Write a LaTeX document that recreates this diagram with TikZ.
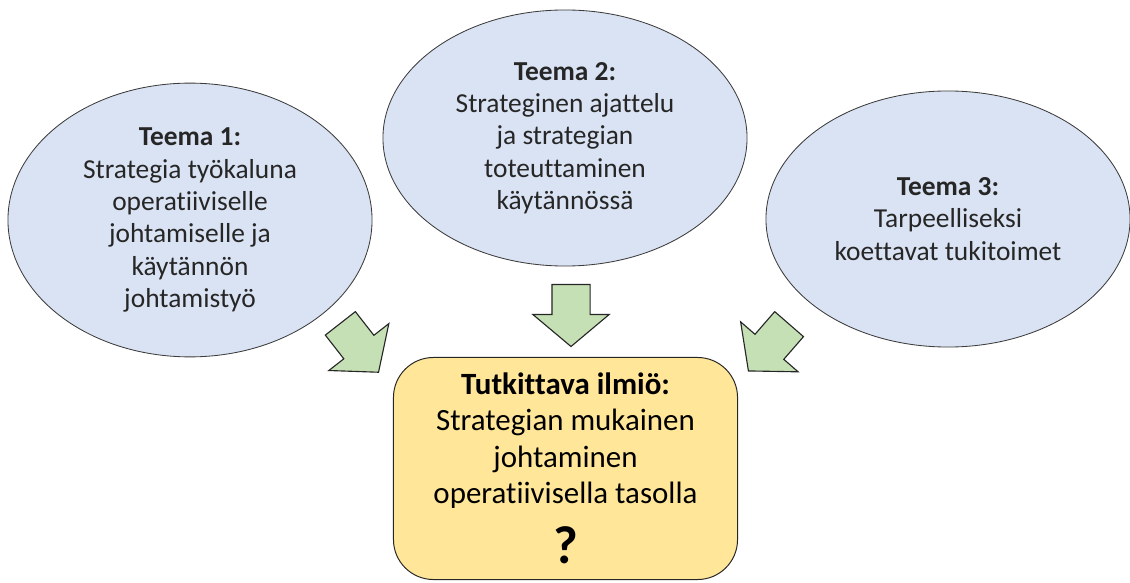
\documentclass[tikz,border=0pt]{standalone}
\usepackage{fontspec}
\setmainfont{Carlito}[Ligatures=NoCommon]
\usepackage{tikz}
\usetikzlibrary{shapes.geometric, shapes.arrows}
\definecolor{themeblue}{HTML}{DAE3F3}
\definecolor{phengold}{HTML}{FFE699}
\definecolor{arrowgreen}{HTML}{C5E0B4}
\definecolor{inkgray}{HTML}{262626}
\tikzstyle{theme} = [ellipse, minimum width=9.1cm, minimum height=6.4cm, align=center, draw=inkgray!90, fill=themeblue, line width=0.6pt, text=inkgray, font=\fontsize{19.5}{23}\selectfont]
\tikzstyle{phen} = [rectangle, rounded corners=1cm, minimum width=8.6cm, minimum height=5.55cm, align=center, draw=inkgray, fill=phengold, line width=0.7pt, text=black, font=\fontsize{22}{25.8}\selectfont]
\tikzstyle{blockarrow} = [single arrow, minimum height=1.55cm, inner xsep=0pt, inner ysep=0.4625cm, single arrow head extend=0.475cm, single arrow tip angle=100, draw=inkgray, fill=arrowgreen, line width=0.8pt]

\begin{document}
\begin{tikzpicture}[x=0.025cm, y=-0.025cm]
  \useasboundingbox (0,0) rectangle (1130,583);

  \node (theme1) [theme] at (190,220) {\textbf{Teema 1:}\\Strategia työkaluna\\operatiiviselle\\johtamiselle ja\\käytännön\\johtamistyö};
  \node (theme2) [theme] at (565,138) {\textbf{Teema 2:}\\Strateginen ajattelu\\ja strategian\\toteuttaminen\\käytännössä};
  \node (theme3) [theme] at (948,219) {\textbf{Teema 3:}\\Tarpeelliseksi\\koettavat tukitoimet};

  \node (phen) [phen] at (565.5,468.5) {\textbf{Tutkittava ilmiö:}\\Strategian mukainen\\johtaminen\\operatiivisella tasolla\\[12pt]{\fontsize{38}{40}\selectfont\bfseries ?}};

  \node (arr1) [blockarrow, rotate=-52] at (354.5,341.5) {};
  \node (arr2) [blockarrow, rotate=-90] at (571,307.5) {};
  \node (arr3) [blockarrow, rotate=-131] at (774,341.5) {};
\end{tikzpicture}
\end{document}
